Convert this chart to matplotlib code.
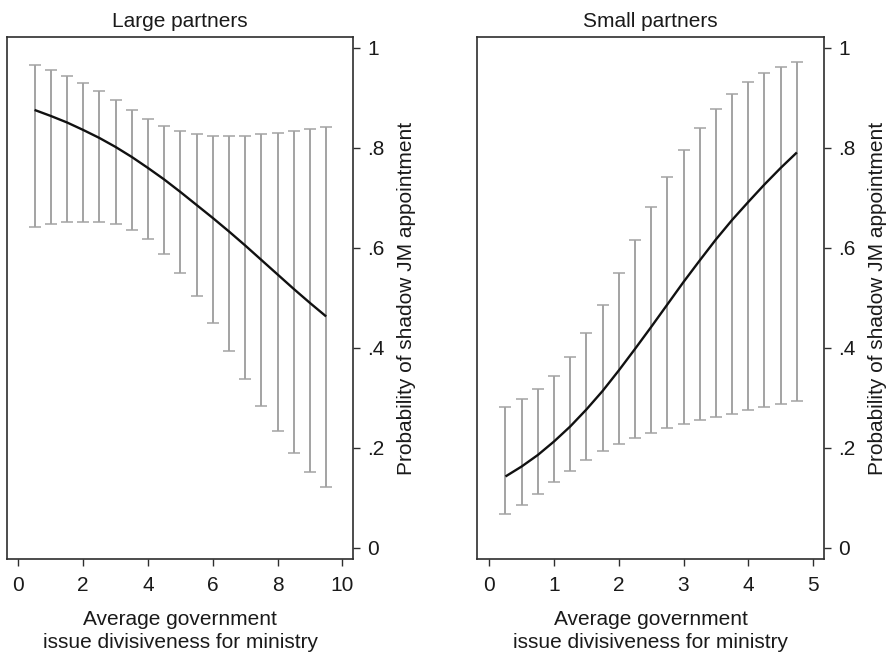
import matplotlib
matplotlib.use("Agg")
import matplotlib.pyplot as plt
from matplotlib.ticker import FixedLocator, FixedFormatter

plt.rcParams['font.family'] = ['Liberation Sans', 'DejaVu Sans']

# Large partners: predicted probability with 95% intervals
large_x = [0.5, 1.0, 1.5, 2.0, 2.5, 3.0, 3.5, 4.0, 4.5, 5.0,
           5.5, 6.0, 6.5, 7.0, 7.5, 8.0, 8.5, 9.0, 9.5]
large_pred = [0.876, 0.864, 0.851, 0.836, 0.820, 0.802, 0.782, 0.760, 0.737, 0.712,
              0.686, 0.660, 0.633, 0.605, 0.576, 0.547, 0.518, 0.490, 0.463]
large_hi = [0.966, 0.955, 0.944, 0.930, 0.913, 0.895, 0.876, 0.858, 0.844, 0.833,
            0.827, 0.824, 0.823, 0.824, 0.827, 0.829, 0.833, 0.838, 0.842]
large_lo = [0.641, 0.647, 0.651, 0.652, 0.651, 0.647, 0.635, 0.617, 0.588, 0.550,
            0.503, 0.449, 0.393, 0.337, 0.283, 0.234, 0.190, 0.152, 0.121]

# Small partners
small_x = [0.25, 0.5, 0.75, 1.0, 1.25, 1.5, 1.75, 2.0, 2.25, 2.5,
           2.75, 3.0, 3.25, 3.5, 3.75, 4.0, 4.25, 4.5, 4.75]
small_pred = [0.143, 0.163, 0.186, 0.213, 0.243, 0.277, 0.314, 0.355, 0.398, 0.442,
              0.487, 0.532, 0.575, 0.617, 0.656, 0.692, 0.727, 0.760, 0.791]
small_hi = [0.281, 0.297, 0.317, 0.344, 0.381, 0.429, 0.486, 0.549, 0.615, 0.681,
            0.742, 0.795, 0.840, 0.877, 0.907, 0.931, 0.949, 0.961, 0.971]
small_lo = [0.067, 0.086, 0.108, 0.131, 0.154, 0.175, 0.193, 0.207, 0.220, 0.230,
            0.239, 0.247, 0.255, 0.261, 0.268, 0.275, 0.281, 0.287, 0.293]

y_ticks = [0, 0.2, 0.4, 0.6, 0.8, 1.0]
y_ticklabels = ["0", ".2", ".4", ".6", ".8", "1"]
large_xticks = [0, 2, 4, 6, 8, 10]
small_xticks = [0, 1, 2, 3, 4, 5]

titles = ["Large partners", "Small partners"]
xlabel = "Average government\nissue divisiveness for ministry"
ylabel = "Probability of shadow JM appointment"

FS = 15
TEXT = "#1a1a1a"
FRAME = "#2e2e2e"
BAR = "#a3a3a3"

fig = plt.figure(figsize=(8.9, 6.55), dpi=100)
ax1 = fig.add_axes([0.0079, 0.1466, 0.3888, 0.797])
ax2 = fig.add_axes([0.5363, 0.1466, 0.3896, 0.797])

panels = [
    (ax1, large_x, large_pred, large_lo, large_hi, large_xticks, (-0.35, 10.33)),
    (ax2, small_x, small_pred, small_lo, small_hi, small_xticks, (-0.185, 5.17)),
]

for (ax, x, pred, lo, hi, xt, xl), title in zip(panels, titles):
    err_lo = [p - l for p, l in zip(pred, lo)]
    err_hi = [h - p for p, h in zip(pred, hi)]
    ax.errorbar(x, pred, yerr=[err_lo, err_hi], fmt='none', ecolor=BAR,
                elinewidth=1.4, capsize=4.2, capthick=1.1, zorder=2)
    ax.plot(x, pred, color="#111111", lw=1.7, zorder=3, solid_capstyle='butt',
            solid_joinstyle='round')

    ax.set_xlim(*xl)
    ax.set_ylim(-0.022, 1.022)
    ax.xaxis.set_major_locator(FixedLocator(xt))
    ax.set_xticklabels([str(v) for v in xt], fontsize=FS, color=TEXT)
    ax.yaxis.set_major_locator(FixedLocator(y_ticks))
    ax.yaxis.set_major_formatter(FixedFormatter(y_ticklabels))
    ax.yaxis.tick_right()
    ax.yaxis.set_label_position("right")
    ax.tick_params(axis='y', labelsize=FS, colors=FRAME, labelcolor=TEXT,
                   length=5, width=1, pad=5, direction='out')
    ax.tick_params(axis='x', colors=FRAME, labelcolor=TEXT,
                   length=5, width=1, pad=7, direction='out')
    for s in ax.spines.values():
        s.set_color(FRAME)
        s.set_linewidth(1.2)

    ax.set_title(title, fontsize=FS, color=TEXT, pad=7)
    ax.set_xlabel(xlabel, fontsize=FS, color=TEXT, labelpad=11, linespacing=1.3)
    ax.set_ylabel(ylabel, fontsize=FS, color=TEXT, labelpad=9)

fig.savefig("out.png", dpi=100)
